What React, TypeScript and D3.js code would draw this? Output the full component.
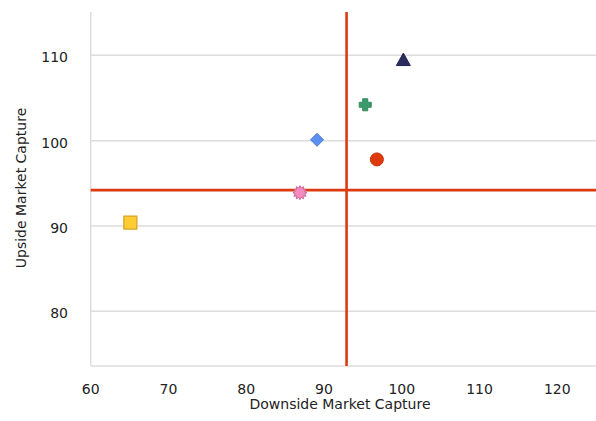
import React from "react";
import * as d3 from "d3";

const names = ["Triangle", "Plus", "Diamond", "Circle", "Star", "Square"];
const downside = [100.2, 95.3, 89.1, 96.8, 86.9, 65.1];
const upside = [109.5, 104.2, 100.1, 97.8, 93.9, 90.4];
const shapes = ["triangle", "plus", "diamond", "circle", "star", "square"];
const fills = ["#2b2d5e", "#3a9a6a", "#5b8ff0", "#dd3a0e", "#f08cc0", "#ffcc33"];
const strokes = ["#23254f", "#2f8a5c", "#4a78d0", "#c83208", "#d0659c", "#d4a020"];
const xTicks = [60, 70, 80, 90, 100, 110, 120];
const yTicks = [80, 90, 100, 110];
const refX = 92.9;
const refY = 94.2;

const W = 596, H = 421;
const x = d3.scaleLinear().domain([60, 125]).range([90.7, 596.2]);
const y = d3.scaleLinear().domain([73.6, 115.07]).range([366, 12]);

function starPath(r1: number, r2: number, n: number) {
  const pts: [number, number][] = [];
  for (let i = 0; i < n * 2; i++) {
    const r = i % 2 === 0 ? r1 : r2;
    const a = (Math.PI * i) / n - Math.PI / 2;
    pts.push([r * Math.cos(a), r * Math.sin(a)]);
  }
  return d3.line()(pts) + "Z";
}

function Marker({ shape, fill, stroke }: { shape: string; fill: string; stroke: string }) {
  switch (shape) {
    case "triangle":
      return <path d="M0,-6.5L7,6L-7,6Z" fill={fill} stroke={stroke} strokeWidth={1} />;
    case "plus":
      return (
        <path
          d="M-2.5,-6L2.5,-6L2.5,-2.5L6,-2.5L6,2.5L2.5,2.5L2.5,6L-2.5,6L-2.5,2.5L-6,2.5L-6,-2.5L-2.5,-2.5Z"
          fill={fill}
          stroke={stroke}
          strokeWidth={1}
          strokeLinejoin="round"
        />
      );
    case "diamond":
      return <path d="M0,-6.5L6.5,0L0,6.5L-6.5,0Z" fill={fill} stroke={stroke} strokeWidth={1} />;
    case "circle":
      return <circle r={6.5} fill={fill} stroke={stroke} strokeWidth={1} />;
    case "star":
      return <path d={starPath(7, 4.8, 12)} fill={fill} stroke={stroke} strokeWidth={1} />;
    case "square":
      return <rect x={-6.5} y={-6.5} width={13} height={13} fill={fill} stroke={stroke} strokeWidth={1.2} />;
    default:
      return null;
  }
}

export default function App() {
  const font = "'DejaVu Sans', Verdana, sans-serif";
  const [x0, x1] = x.range();
  const [y0, y1] = y.range();
  return (
    <svg width={W} height={H} style={{ position: "absolute", left: 0, top: 0, background: "#fff" }}>
      {yTicks.map((t) => (
        <line key={t} x1={x0} x2={x1} y1={y(t)} y2={y(t)} stroke="#dcdcdc" strokeWidth={1.5} />
      ))}
      <line x1={x0} x2={x0} y1={y1} y2={y0} stroke="#dcdcdc" strokeWidth={1.5} />
      <line x1={x0} x2={x1} y1={y0} y2={y0} stroke="#dcdcdc" strokeWidth={1.5} />
      <line x1={x(refX)} x2={x(refX)} y1={y1} y2={y0} stroke="#dd3a10" strokeWidth={2.6} />
      <line x1={x0} x2={x1} y1={y(refY)} y2={y(refY)} stroke="#dd3a10" strokeWidth={2.6} />
      {yTicks.map((t) => (
        <text key={t} x={68} y={y(t) + 3} textAnchor="end" dominantBaseline="middle" fontFamily={font} fontSize={14} fill="#222">
          {t}
        </text>
      ))}
      {xTicks.map((t) => (
        <text key={t} x={x(t)} y={390} textAnchor="middle" dominantBaseline="middle" fontFamily={font} fontSize={14} fill="#222">
          {t}
        </text>
      ))}
      <text x={340} y={409} textAnchor="middle" fontFamily={font} fontSize={14} fill="#222">
        Downside Market Capture
      </text>
      <text
        transform={`translate(26,188) rotate(-90)`}
        textAnchor="middle"
        fontFamily={font}
        fontSize={14}
        fill="#222"
      >
        Upside Market Capture
      </text>
      {names.map((n, i) => (
        <g key={n} transform={`translate(${x(downside[i])},${y(upside[i])})`}>
          <Marker shape={shapes[i]} fill={fills[i]} stroke={strokes[i]} />
        </g>
      ))}
    </svg>
  );
}
